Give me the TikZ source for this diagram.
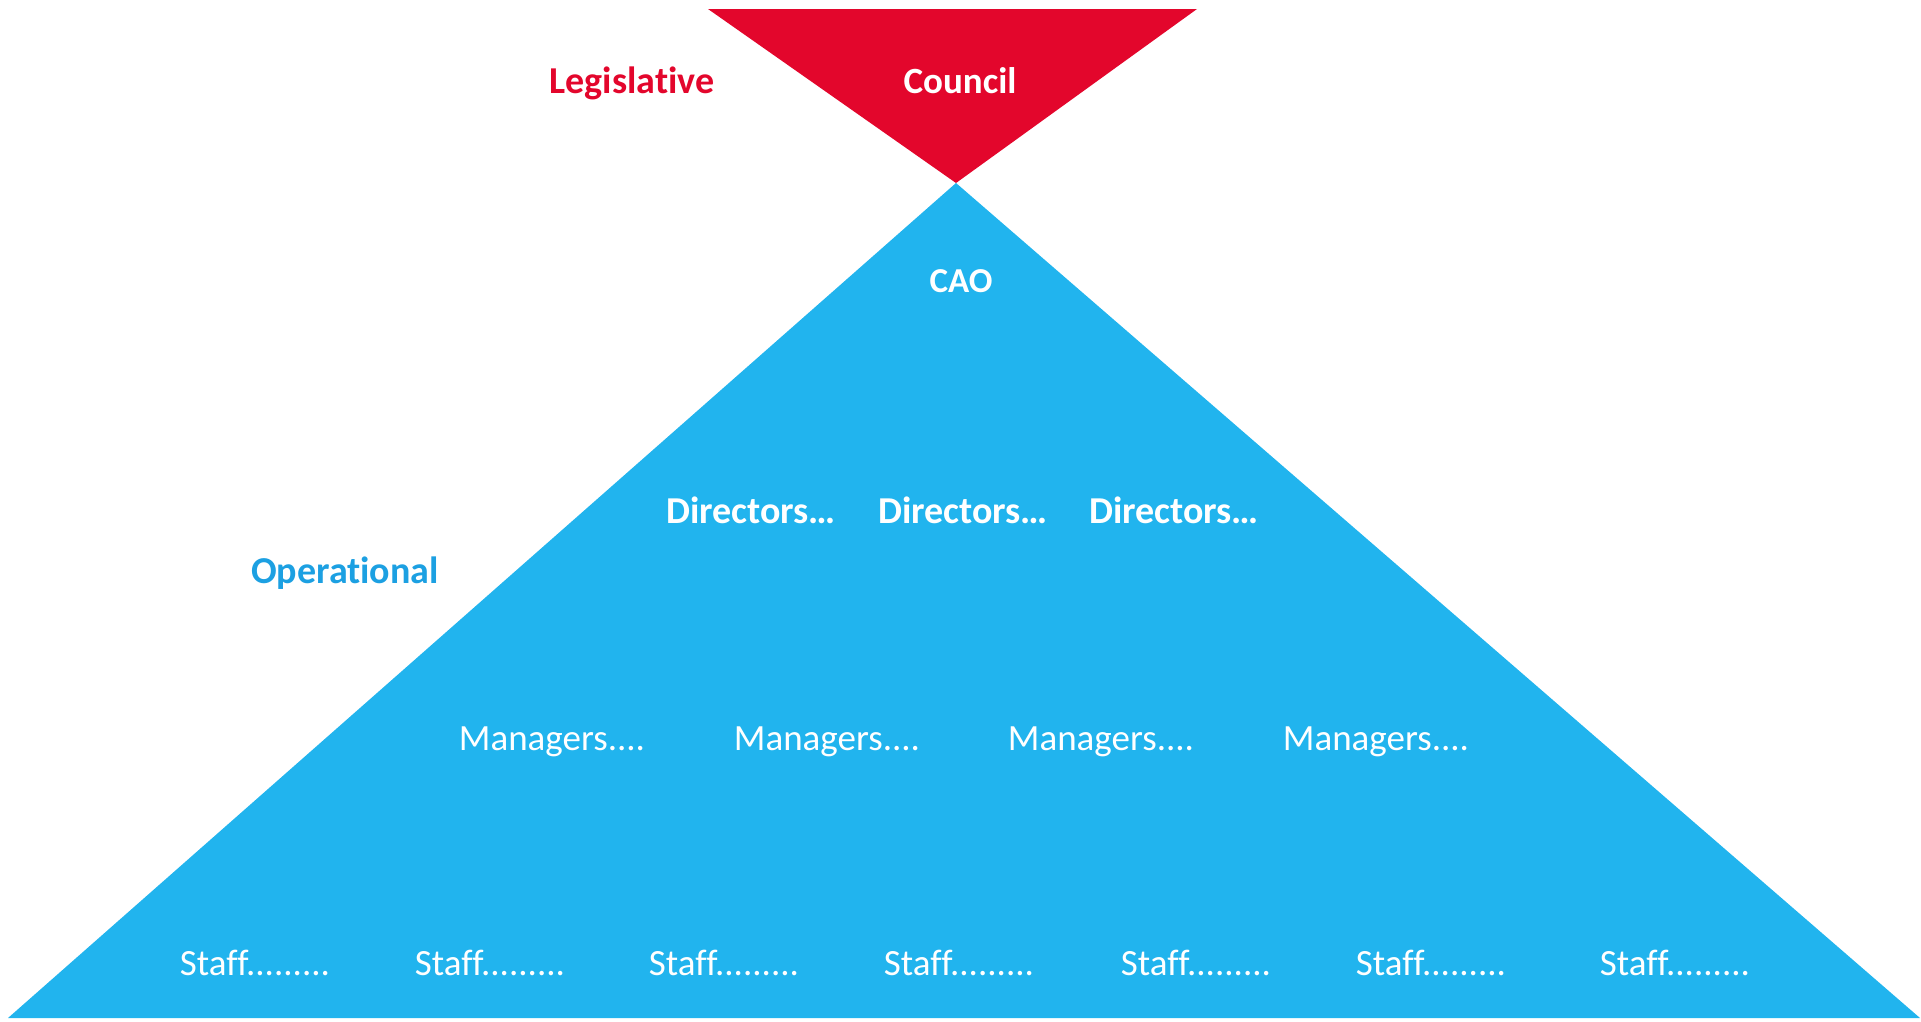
\documentclass[tikz,border=0pt]{standalone}
\usepackage{fontspec}
\setmainfont{Carlito}[Ligatures=NoCommon]
\usepackage{xcolor}
\usepackage{tikz}
\usetikzlibrary{positioning}

\definecolor{councilred}{RGB}{227,6,44}
\definecolor{opblue}{RGB}{33,180,238}
\definecolor{optext}{RGB}{28,160,226}

\begin{document}
\begin{tikzpicture}[
  x=1pt, y=-1pt,
  lbl/.style={anchor=base, inner sep=0pt, font=\fontsize{37}{40}\selectfont},
  head/.style={lbl, font=\fontsize{38}{40}\selectfont\bfseries},
  rank/.style={head, text=white},
  staffrank/.style={lbl, text=white}
]
\useasboundingbox (0,0) rectangle (1921,1021);

% the two triangles
\coordinate (redL) at (708,9);
\coordinate (redR) at (1197,9);
\coordinate (apex) at (956,183);
\coordinate (baseL) at (8,1018);
\coordinate (baseR) at (1920,1018);
\fill[councilred] (redL) -- (redR) -- (apex) -- cycle;
\fill[opblue] (apex) -- (baseR) -- (baseL) -- cycle;

% side labels
\node[head, text=councilred] (legis) at (632,93) {Legislative};
\node[head, text=optext] (oper) at (345,583) {Operational};

% council and CAO
\node[rank, font=\fontsize{37}{40}\selectfont\bfseries] (council) at (960,93) {Council};
\node[rank, font=\fontsize{35}{38}\selectfont\bfseries] (cao) at (961,292) {CAO};

% directors
\node[rank] (dirA) at (751,523) {Directors\ldots};
\node[rank] (dirB) at (963,523) {Directors\ldots};
\node[rank] (dirC) at (1174,523) {Directors\ldots};

% managers
\node[staffrank] (mgrA) at (552,750) {Managers....};
\node[staffrank] (mgrB) at (827,750) {Managers....};
\node[staffrank] (mgrC) at (1101,750) {Managers....};
\node[staffrank] (mgrD) at (1376,750) {Managers....};

% staff row
\node[staffrank] (stfA) at (255,975) {Staff.........};
\node[staffrank] (stfB) at (490,975) {Staff.........};
\node[staffrank] (stfC) at (724,975) {Staff.........};
\node[staffrank] (stfD) at (959,975) {Staff.........};
\node[staffrank] (stfE) at (1196,975) {Staff.........};
\node[staffrank] (stfF) at (1431,975) {Staff.........};
\node[staffrank] (stfG) at (1675,975) {Staff.........};
\end{tikzpicture}
\end{document}
